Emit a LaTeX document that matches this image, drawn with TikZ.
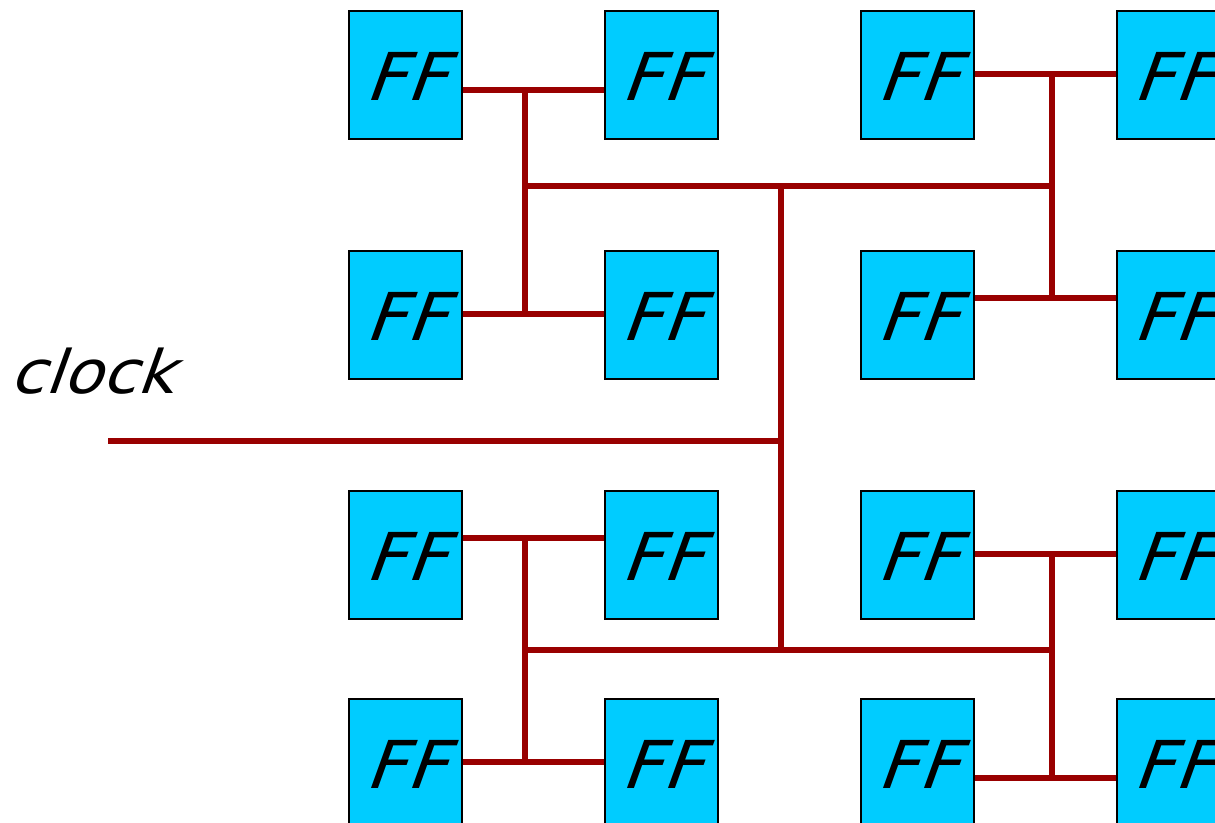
\documentclass[tikz,border=0pt]{standalone}
\usepackage{fontspec}
\newfontfamily\labfont[FakeSlant=0.36,FakeStretch=1.07]{DejaVu Sans}
\begin{document}
\begin{tikzpicture}[x=1pt,y=-1pt,
  ffbox/.style={draw=black,line width=1.5pt,fill=ffcyan,minimum width=113pt,minimum height=128pt,inner sep=0pt,anchor=north west,font=\labfont\fontsize{66}{70}\selectfont},
  wire/.style={draw=wirered,line width=5.5pt}]
\definecolor{ffcyan}{HTML}{00CCFF}
\definecolor{wirered}{HTML}{990000}
\useasboundingbox (0,0) rectangle (1215,822);
\clip (0,0) rectangle (1215,822);
% boxes
\foreach \c/\x in {1/348,2/604,3/860,4/1116}{
  \foreach \r/\y in {1/10,2/250,3/490,4/698}{
    \node[ffbox,text depth=0pt] (b\r\c) at (\x,\y) {\raisebox{-3pt}{FF}};
  }
}
\node[anchor=base west,inner sep=0pt,font=\labfont\fontsize{60}{70}\selectfont] (clk) at (9,393) {clock};
% junction coordinates
\coordinate (src) at (108,441);
\coordinate (c0) at (781,441);
\coordinate (ct) at (781,186);
\coordinate (cb) at (781,650);
\coordinate (tl1) at (525,90);
\coordinate (tl2) at (525,314);
\coordinate (tlm) at (525,186);
\coordinate (tr1) at (1052,74);
\coordinate (tr2) at (1052,298);
\coordinate (trm) at (1052,186);
\coordinate (bl1) at (525,538);
\coordinate (bl2) at (525,762);
\coordinate (blm) at (525,650);
\coordinate (br1) at (1052,554);
\coordinate (br2) at (1052,778);
\coordinate (brm) at (1052,650);
% wires
\draw[wire] (src) -- (c0);
\draw[wire] (ct) -- (cb);
\draw[wire] (tlm) -- (trm);
\draw[wire] (blm) -- (brm);
\draw[wire] (tl1) -- (tl2);
\draw[wire] (tr1) -- (tr2);
\draw[wire] (bl1) -- (bl2);
\draw[wire] (br1) -- (br2);
\draw[wire] (b11.east |- tl1) -- (b12.west |- tl1);
\draw[wire] (b21.east |- tl2) -- (b22.west |- tl2);
\draw[wire] (b13.east |- tr1) -- (b14.west |- tr1);
\draw[wire] (b23.east |- tr2) -- (b24.west |- tr2);
\draw[wire] (b31.east |- bl1) -- (b32.west |- bl1);
\draw[wire] (b41.east |- bl2) -- (b42.west |- bl2);
\draw[wire] (b33.east |- br1) -- (b34.west |- br1);
\draw[wire] (b43.east |- br2) -- (b44.west |- br2);
\end{tikzpicture}
\end{document}
